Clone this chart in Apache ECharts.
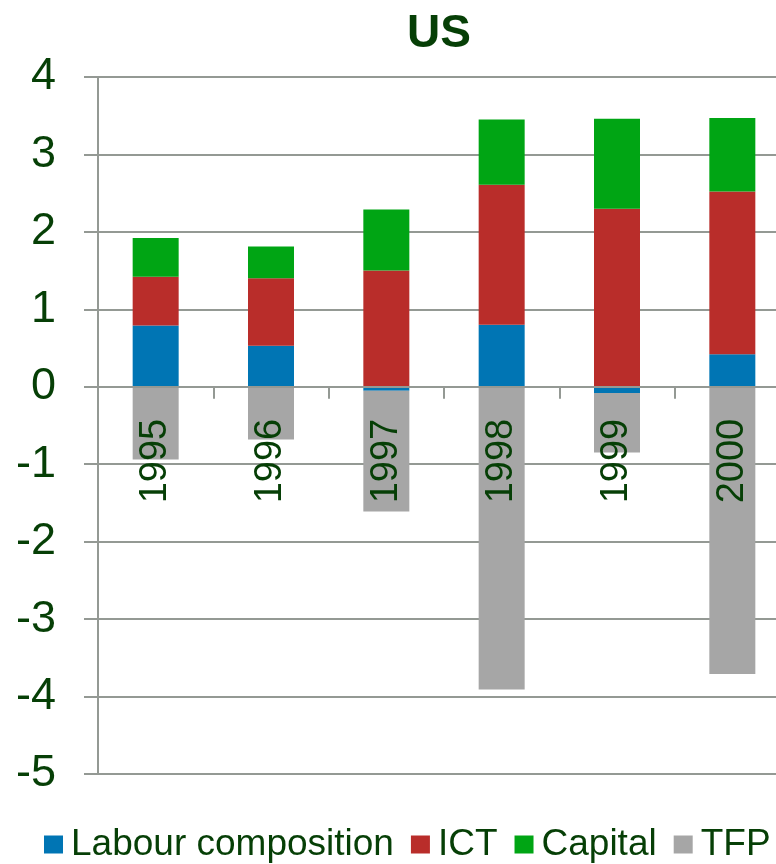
<!DOCTYPE html>
<html>
<head>
<meta charset="utf-8">
<script src="https://cdn.jsdelivr.net/npm/echarts@6/dist/echarts.min.js"></script>
<style>
html,body{margin:0;padding:0;background:#fff;}
#chart{width:776px;height:864px;}
</style>
</head>
<body>
<div id="chart"></div>
<script>
const categories = ['1995', '1996', '1997', '1998', '1999', '2000'];
const labourComposition = [0.79, 0.53, -0.05, 0.80, -0.08, 0.42];
const ict = [0.63, 0.87, 1.50, 1.81, 2.30, 2.10];
const capital = [0.50, 0.41, 0.79, 0.84, 1.16, 0.95];
const tfp = [-0.94, -0.68, -1.56, -3.91, -0.77, -3.71];
const seriesNames = ['Labour composition', 'ICT', 'Capital', 'TFP'];
const colors = ['#0075B4', '#B92D2A', '#00A514', '#A6A6A6'];

const textColor = '#063f06';
const gridColor = '#949994';
const fontFamily = 'Liberation Sans, Arial, sans-serif';

const chart = echarts.init(document.getElementById('chart'));
const values = [labourComposition, ict, capital, tfp];

const yMin = -5, yMax = 4;
const gridTop = 77, gridBottom = 90;
const plotH = 864 - gridTop - gridBottom;
const zeroOffset = -plotH * (0 - yMin) / (yMax - yMin);

chart.setOption({
  animation: false,
  title: {
    text: 'US',
    left: 434,
    textAlign: 'center',
    top: 6,
    textStyle: { fontFamily, fontSize: 46, fontWeight: 'bold', color: textColor }
  },
  legend: {
    left: 44,
    top: 826,
    itemWidth: 19,
    itemHeight: 18,
    itemGap: 17,
    icon: 'rect',
    padding: 0,
    textStyle: { fontFamily, fontSize: 37, color: textColor, padding: [0, 0, 0, 3] },
    data: seriesNames
  },
  grid: { left: 98, right: -14, top: gridTop, bottom: gridBottom, containLabel: false, outerBoundsMode: 'none' },
  xAxis: {
    type: 'category',
    data: categories,
    offset: zeroOffset,
    z: 10,
    axisLine: { onZero: false, lineStyle: { color: gridColor, width: 2 } },
    axisTick: { show: true, length: 12, alignWithLabel: false, lineStyle: { color: gridColor, width: 2 } },
    axisLabel: { rotate: 90, margin: 32, fontFamily, fontSize: 38, color: textColor },
    splitLine: { show: false }
  },
  yAxis: {
    type: 'value',
    min: yMin,
    max: yMax,
    interval: 1,
    axisLine: { show: true, lineStyle: { color: gridColor, width: 2 } },
    axisTick: { show: true, length: 14, lineStyle: { color: gridColor, width: 2 } },
    axisLabel: { margin: 42, fontFamily, fontSize: 45, color: textColor },
    splitLine: { show: true, lineStyle: { color: gridColor, width: 2 } }
  },
  series: seriesNames.map((name, i) => ({
    name,
    type: 'bar',
    stack: 'total',
    barWidth: 46,
    itemStyle: { color: colors[i] },
    data: values[i]
  }))
});
</script>
</body>
</html>
